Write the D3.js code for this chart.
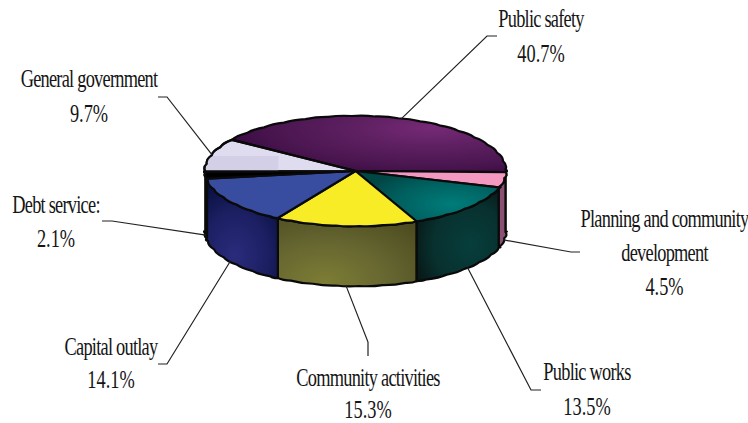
<!DOCTYPE html>
<html>
<head>
<meta charset="utf-8">
<script src="https://cdn.jsdelivr.net/npm/d3@7"></script>
<style>
  html, body { margin: 0; background: #fff; }
  svg { display: block; }
  text { font-family: "Liberation Serif", serif; font-size: 25.5px; fill: #151515; text-anchor: middle; }
  text.name { letter-spacing: -1.05px; }
</style>
</head>
<body>
<svg id="chart" width="748" height="423"></svg>
<script>
// Budget shares, clockwise around the pie
const categories = ["Public safety", "Planning and community development", "Public works",
  "Community activities", "Capital outlay", "Debt service:", "General government"];
const shares = [40.7, 4.5, 13.5, 15.3, 14.1, 2.1, 9.7];

// Label wrapping and placement, in the same order as the categories
const labelLines = [["Public safety"], ["Planning and community", "development"], ["Public works"],
  ["Community activities"], ["Capital outlay"], ["Debt service:"], ["General government"]];
const labelCentres = [541, 664.5, 587, 368, 111, 56, 89];
const labelBaselines = [27, 227, 380, 386, 355, 213, 87];
const lineGaps = [35, 34, 35, 31.5, 33, 34, 35];
const elbowX = [487, 571, 531, 368, 167, 112, 167];
const elbowY = [36, 252, 390, 342, 364, 221, 97];
const stubX = [497, 580, 541, 368, 158, 102, 158];
const stubY = [36, 252, 390, 356, 364, 221, 97];

// Pie geometry
const cx = 355.5, cy = 171, rx = 150, ry = 55, depth = 60;
const firstAngle = -55.5 * Math.PI / 180;
const scallop = 9 * Math.PI / 180;
const bulge = 1.02;
const glyphSqueeze = 0.72;

const svg = d3.select("#chart");
const defs = svg.append("defs");

const x = d3.scaleLinear().domain([-1, 1]).range([cx - rx, cx + rx]);
const y = d3.scaleLinear().domain([-1, 1]).range([cy - ry, cy + ry]);
const px = (a, k = 1) => x(Math.sin(a) * k);
const py = (a, k = 1, drop = 0) => y(-Math.cos(a) * k) + drop;

const slices = d3.pie().sort(null).value(d => d)
  .startAngle(firstAngle).endAngle(firstAngle + 2 * Math.PI)(shares);

// Rim breakpoints are shared across slices so the scallops line up
function rimAngles(a0, a1) {
  const out = [a0];
  let g = (Math.floor((a0 - firstAngle) / scallop) + 1) * scallop + firstAngle;
  for (; g < a1 - 1e-6; g += scallop) out.push(g);
  out.push(a1);
  return out;
}
function traceRim(path, pts, drop) {
  for (let i = 1; i < pts.length; i++) {
    const m = (pts[i - 1] + pts[i]) / 2;
    path.quadraticCurveTo(px(m, bulge), py(m, bulge, drop), px(pts[i]), py(pts[i], 1, drop));
  }
}
function topPath(s) {
  const p = d3.path();
  p.moveTo(cx, cy);
  p.lineTo(px(s.startAngle), py(s.startAngle));
  traceRim(p, rimAngles(s.startAngle, s.endAngle), 0);
  p.closePath();
  return p.toString();
}
function wallPath(a0, a1) {
  const pts = rimAngles(a0, a1);
  const p = d3.path();
  p.moveTo(px(a0), py(a0));
  traceRim(p, pts, 0);
  p.lineTo(px(a1), py(a1, 1, depth));
  traceRim(p, pts.slice().reverse(), depth);
  p.closePath();
  return p.toString();
}

function radial(id, fx, fy, r, squash, stops) {
  const g = defs.append("radialGradient").attr("id", id)
    .attr("gradientUnits", "userSpaceOnUse").attr("cx", 0).attr("cy", 0).attr("r", r)
    .attr("gradientTransform", `translate(${fx},${fy}) scale(1,${squash})`);
  stops.forEach(([o, c]) => g.append("stop").attr("offset", o).attr("stop-color", c));
}

radial("topSafety", 432, 128, 210, 0.24, [[0, "#762a76"], [0.35, "#5f2062"], [0.75, "#4a1650"], [1, "#3a0a42"]]);
radial("topWorks", 452, 204, 95, 0.4, [[0, "#007c7a"], [0.6, "#005f5e"], [1, "#004644"]]);
radial("wallCommunity", 325, 282, 125, 0.62, [[0, "#7d7d35"], [0.55, "#646430"], [1, "#4c4c20"]]);
radial("wallWorks", 470, 245, 62, 1.1, [[0, "#063e3c"], [0.6, "#08302e"], [1, "#071514"]]);
radial("wallCapital", 235, 255, 55, 1.3, [[0, "#2b2b7c"], [0.6, "#1c1f62"], [1, "#0a1244"]]);

const topFills = ["url(#topSafety)", "#f497c1", "url(#topWorks)", "#f8ec26",
  "#384da0", "#000000", "#e0dcf0"];
const wallFills = ["#3a0a42", "#8a4f72", "url(#wallWorks)", "url(#wallCommunity)",
  "url(#wallCapital)", "#0a1244", "#0a1244"];

const pie = svg.append("g").attr("stroke", "#0a0a0a").attr("stroke-width", 2.2).attr("stroke-linejoin", "round");

// Side walls only exist on the front half of the rim
const frontStart = Math.PI / 2, frontEnd = 3 * Math.PI / 2;
pie.append("g").selectAll("path")
  .data(slices.filter(s => s.endAngle > frontStart && s.startAngle < frontEnd))
  .join("path")
  .attr("d", s => wallPath(Math.max(s.startAngle, frontStart), Math.min(s.endAngle, frontEnd)))
  .attr("fill", s => wallFills[s.index]);

pie.append("g").selectAll("path").data(slices).join("path")
  .attr("d", topPath)
  .attr("fill", s => topFills[s.index]);

// Muted band across the lower-left of the General government face
const general = slices[6];
defs.append("clipPath").attr("id", "generalClip").append("path").attr("d", topPath(general));
svg.append("rect")
  .attr("x", cx - rx).attr("y", 156).attr("width", 73).attr("height", 15)
  .attr("fill", "#d3cfe7").attr("clip-path", "url(#generalClip)");
svg.append("path").attr("d", topPath(general)).attr("fill", "none")
  .attr("stroke", "#0a0a0a").attr("stroke-width", 2.2).attr("stroke-linejoin", "round");

// Leader lines run from the middle of each slice's outer rim to its label
const onFront = a => { const n = (a % (2 * Math.PI) + 2 * Math.PI) % (2 * Math.PI); return n > frontStart && n < frontEnd; };
const leader = d3.line();
svg.append("g").selectAll("path").data(slices).join("path")
  .attr("fill", "none").attr("stroke", "#222").attr("stroke-width", 1.2)
  .attr("d", s => {
    const m = (s.startAngle + s.endAngle) / 2;
    return leader([
      [px(m), py(m, 1, onFront(m) ? depth : 0)],
      [elbowX[s.index], elbowY[s.index]],
      [stubX[s.index], stubY[s.index]]
    ]);
  });

// Horizontally condensed labels: name lines followed by the percentage
const labels = svg.append("g").selectAll("g").data(categories).join("g");
labels.each(function (name, i) {
  const lines = labelLines[i].concat(shares[i].toFixed(1) + "%");
  d3.select(this).selectAll("text").data(lines).join("text")
    .attr("class", (d, j) => j < lines.length - 1 ? "name" : "value")
    .attr("transform", (d, j) => `translate(${labelCentres[i]},${labelBaselines[i] + j * lineGaps[i]}) scale(${glyphSqueeze},1)`)
    .text(d => d);
});
</script>
</body>
</html>
